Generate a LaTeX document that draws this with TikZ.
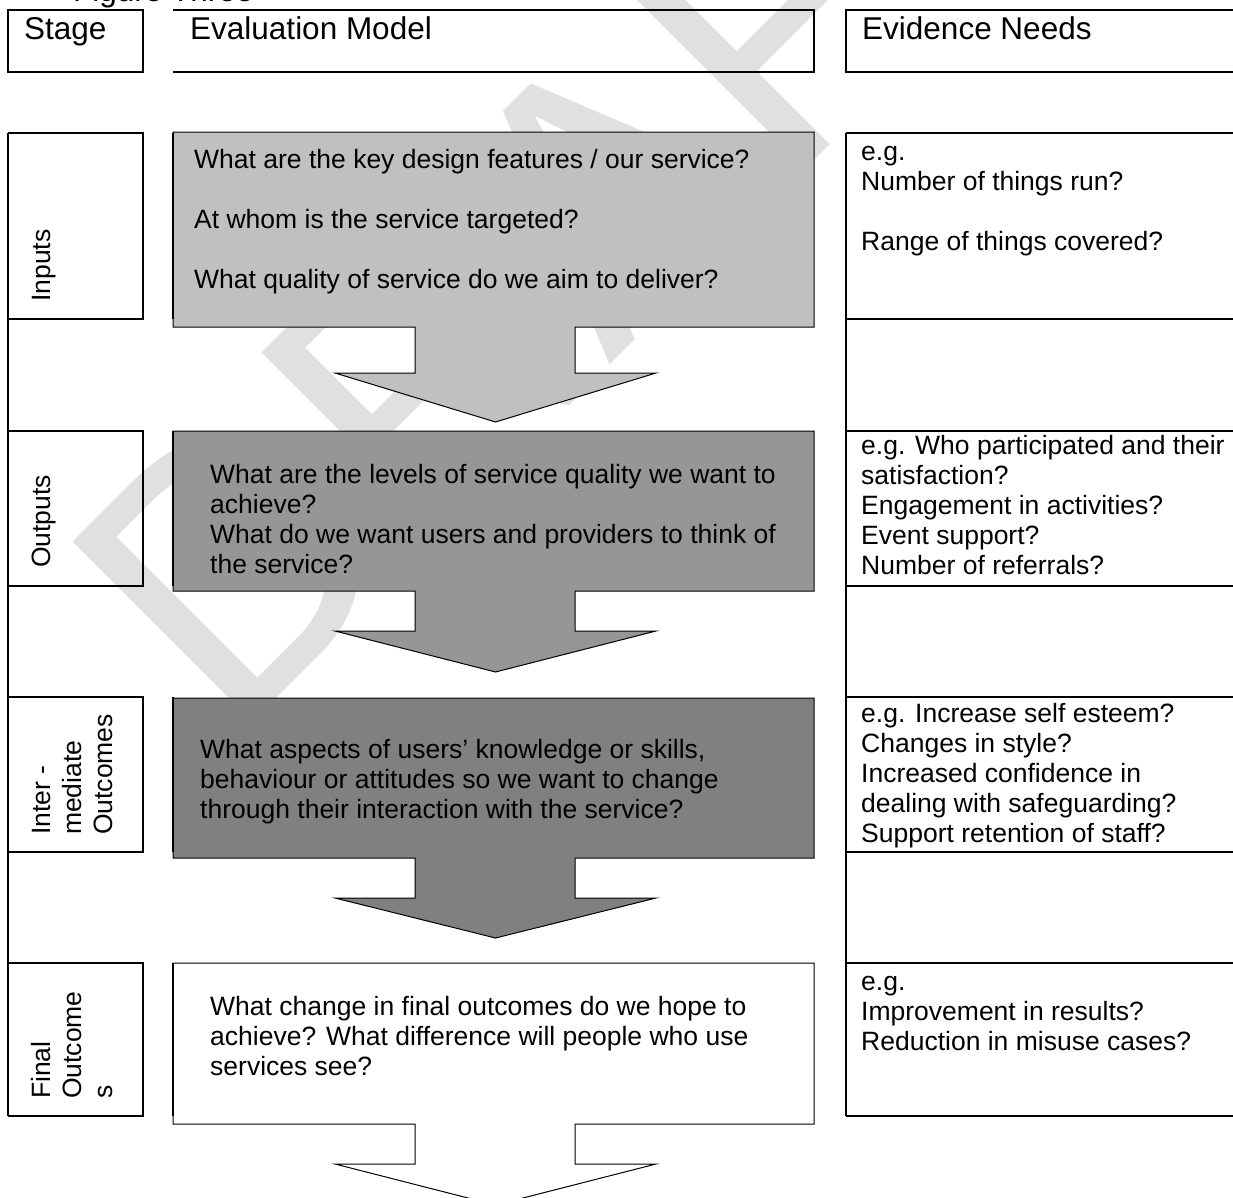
\documentclass[tikz,border=0pt]{standalone}
\usepackage{fontspec}
\setmainfont{Liberation Sans}

\definecolor{lightfill}{HTML}{C0C0C0}
\definecolor{midfill}{HTML}{969696}
\definecolor{darkfill}{HTML}{808080}
\definecolor{watermark}{HTML}{E0E0E0}

\begin{document}
\begin{tikzpicture}[x=1bp, y=-1bp,
    rule/.style={line width=1.5bp},
    callout/.style={draw, line width=1bp},
    headtext/.style={anchor=base west, inner sep=0pt, font=\fontsize{31.5bp}{36bp}\selectfont},
    celltext/.style={anchor=base west, inner sep=0pt, align=left, font=\fontsize{26.5bp}{30bp}\selectfont},
    stagetext/.style={rotate=90, anchor=base west, inner sep=0pt, align=left, font=\fontsize{26.5bp}{31bp}\selectfont}]

    \useasboundingbox (0,0) rectangle (1233,1198);

    % DRAFT behind everything
    \node[text=watermark, rotate=45, inner sep=0pt, font=\fontsize{370bp}{380bp}\selectfont] (draft) at (578,217) {DRAFT};

    % callout with arrow: #1 = fill, #2 = top, #3 = bottom of box, #4 = end of stem, #5 = tip
    \newcommand{\downcallout}[5]{%
        \draw[callout, fill=#1] (173,#2) -- (814,#2) -- (814,#3) -- (575,#3) -- (575,#4) -- (656,#4)
            -- (495.5,#5) -- (335,#4) -- (415,#4) -- (415,#3) -- (173,#3) -- cycle;}

    \downcallout{lightfill}{132}{327}{373}{422}
    \downcallout{midfill}{431}{591}{631}{672}
    \downcallout{darkfill}{698}{858}{898}{938}
    \downcallout{white}{963}{1124}{1164}{1205}

    % header row
    \draw[rule] (8,10) rectangle (143,72);
    \draw[rule] (173,10) -- (814,10) -- (814,72) -- (173,72);
    \draw[rule] (1233,10) -- (846,10) -- (846,72) -- (1233,72);
    \node[headtext] (fig) at (73,1) {Figure Three};
    \node[headtext] (stage) at (24,39.5) {Stage};
    \node[headtext] (model) at (190,39.5) {Evaluation Model};
    \node[headtext] (needs) at (862,39.5) {Evidence Needs};

    % stage column, and the left border of the model cells
    \draw[rule] (8,133) -- (8,1116);
    \foreach \ya/\yb in {133/319, 431/586, 697/852, 963/1116} {
        \draw[rule] (8,\ya) -- (143,\ya) -- (143,\yb) -- (8,\yb);
        \draw[rule] (173,\ya) -- (173,\yb);
    }

    % evidence column
    \draw[rule] (846,133) -- (846,1116);
    \foreach \ya in {133,319,431,586,697,852,963,1116}
        \draw[rule] (846,\ya) -- (1233,\ya);

    % stage names (base = last line)
    \node[stagetext] (inputs) at (50,302) {Inputs};
    \node[stagetext] (outputs) at (50,568) {Outputs};
    \node[stagetext] (intermediate) at (112,835) {Inter -\\mediate\\Outcomes};
    \node[stagetext] (final) at (112,1099) {Final\\Outcome\\s};

    % questions of the model
    \node[celltext] (modelinputs) at (194,288) {What are the key design features / our service?\\[30bp]At whom is the service targeted?\\[30bp]What quality of service do we aim to deliver?};
    \node[celltext] (modeloutputs) at (210,573) {What are the levels of service quality we want to\\achieve?\\What do we want users and providers to think of\\the service?};
    \node[celltext] (modelintermediate) at (200,818) {What aspects of users’ knowledge or skills,\\behaviour or attitudes so we want to change\\through their interaction with the service?};
    \node[celltext] (modelfinal) at (210,1075) {What change in final outcomes do we hope to\\achieve? What difference will people who use\\services see?};

    % evidence
    \node[celltext] (needsinputs) at (861,250) {e.g.\\Number of things run?\\[30bp]Range of things covered?};
    \node[celltext] (needsoutputs) at (861,574) {e.g. Who participated and their\\satisfaction?\\Engagement in activities?\\Event support?\\Number of referrals?};
    \node[celltext] (needsintermediate) at (861,842) {e.g. Increase self esteem?\\Changes in style?\\Increased confidence in\\dealing with safeguarding?\\Support retention of staff?};
    \node[celltext] (needsfinal) at (861,1050) {e.g.\\Improvement in results?\\Reduction in misuse cases?};

\end{tikzpicture}
\end{document}
